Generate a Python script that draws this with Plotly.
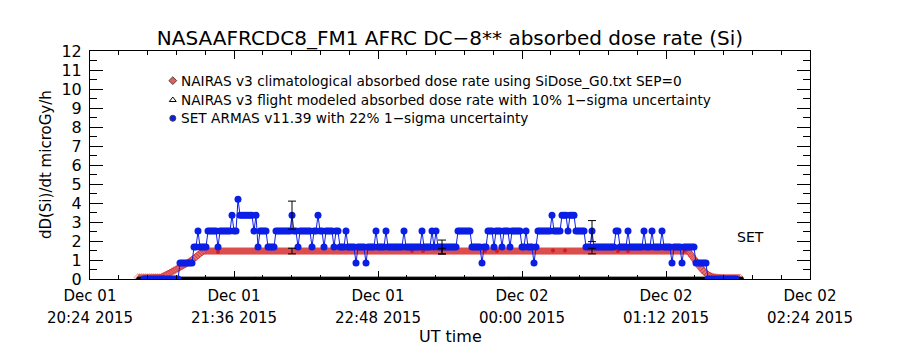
import numpy as np
import pandas as pd
import plotly.graph_objects as go

T0 = pd.Timestamp("2015-12-01 20:24")

# ---- axis tick labels (minutes after 20:24 UT) ----
tick_minutes = [0, 72, 144, 216, 288, 360]
tick_day = ["Dec 01", "Dec 01", "Dec 01", "Dec 02", "Dec 02", "Dec 02"]
tick_time = ["20:24 2015", "21:36 2015", "22:48 2015", "00:00 2015", "01:12 2015", "02:24 2015"]
y_ticks = list(range(0, 13))

# ---- SET ARMAS v11.39 (1-min cadence, run-length: (value, n samples)) ----
set_start_min = 27
set_runs = [(0, 18), (0.84, 7), (1.68, 2), (2.52, 1), (1.68, 4), (2.52, 5), (1.68, 1),
            (2.52, 6), (3.36, 1), (2.52, 2), (4.20, 1), (3.36, 7), (2.52, 1), (3.36, 1),
            (1.68, 1), (2.52, 4), (1.68, 4), (2.52, 8), (3.36, 1), (2.52, 2), (1.68, 1),
            (2.52, 6), (1.68, 1), (2.52, 2), (3.36, 1), (2.52, 2), (1.68, 1), (2.52, 4),
            (1.68, 1), (2.52, 2), (1.68, 3), (2.52, 1), (1.68, 4), (0.84, 1), (1.68, 4),
            (0.84, 1), (1.68, 4), (2.52, 1), (1.68, 4), (2.52, 1), (1.68, 8), (2.52, 1),
            (1.68, 8), (2.52, 1), (1.68, 4), (2.52, 1), (1.68, 1), (2.52, 1), (1.68, 10),
            (2.52, 7), (1.68, 5), (0.84, 1), (1.68, 2), (2.52, 3), (1.68, 1), (2.52, 3),
            (1.68, 1), (2.52, 3), (1.68, 1), (2.52, 5), (1.68, 2), (2.52, 1), (1.68, 3),
            (0.84, 1), (1.68, 1), (2.52, 7), (3.36, 1), (2.52, 4), (3.36, 3), (2.52, 1),
            (3.36, 3), (2.52, 5), (1.68, 3), (2.52, 1), (1.68, 11), (2.52, 2), (1.68, 4),
            (2.52, 1), (1.68, 7), (2.52, 1), (1.68, 3), (2.52, 1), (1.68, 4), (2.52, 1),
            (1.68, 4), (0.84, 1), (1.68, 4), (0.84, 1), (1.68, 6), (0.84, 6), (0, 15)]

# ---- NAIRAS v3 climatological (1-min cadence, run-length) ----
nairas_start_min = 24
nairas_runs = [(0.08, 12),
               (0.12, 1), (0.17, 1), (0.22, 1), (0.27, 1), (0.32, 1), (0.38, 1), (0.44, 1),
               (0.50, 1), (0.56, 1), (0.62, 1), (0.68, 1), (0.74, 1), (0.80, 1), (0.86, 1),
               (0.92, 1), (1.00, 1), (1.08, 1), (1.16, 1), (1.25, 1), (1.34, 1), (1.42, 1),
               (1.47, 243),
               (1.35, 1), (1.20, 1), (1.05, 1), (0.90, 1), (0.75, 1), (0.62, 1), (0.50, 1),
               (0.40, 1), (0.30, 1), (0.22, 1), (0.16, 1), (0.12, 1), (0.10, 1), (0.08, 1),
               (0.07, 1), (0.06, 11)]
nairas_dot_min = [36.5, 64, 129, 161, 166.5, 197.5, 203.5, 231.5, 237.5, 264, 269, 297.5]
nairas_dot_val = [0.10, 1.42, 1.60, 1.47, 1.47, 1.47, 1.47, 1.50, 1.50, 1.47, 1.47, 1.50]

# ---- NAIRAS v3 flight modeled ----
flight_track_min = (24, 326)
flight_track_val = 0.0
flight_err_min = [101, 176, 251]
flight_err_val = [1.47, 1.47, 1.47]
flight_err_pct = 10

# ---- SET uncertainty samples ----
set_err_min = [101, 176, 251]
set_err_val = [3.36, 1.68, 2.52]
set_err_pct = 22

legend_labels = ["NAIRAS v3 climatological absorbed dose rate using SiDose_G0.txt SEP=0",
                 "NAIRAS v3 flight modeled absorbed dose rate with 10% 1\u2212sigma uncertainty",
                 "SET ARMAS v11.39 with 22% 1\u2212sigma uncertainty"]


def expand(start, runs):
    vals = []
    for v, n in runs:
        vals.extend([v] * n)
    mins = [start + i for i in range(len(vals))]
    return mins, vals


def to_time(mins):
    return [T0 + pd.Timedelta(minutes=float(m)) for m in mins]


set_m, set_v = expand(set_start_min, set_runs)
nai_m, nai_v = expand(nairas_start_min, nairas_runs)
trk_m = list(range(flight_track_min[0], flight_track_min[1] + 1))

BLUE = "#0a1ee6"
RED = "#d41c1c"
FONT = "DejaVu Sans, Liberation Sans, sans-serif"
XRANGE = [T0, T0 + pd.Timedelta(minutes=360)]

fig = go.Figure()

# climatological (hatched red band)
fig.add_trace(go.Scatter(x=to_time(nai_m), y=nai_v, mode="lines",
                         line=dict(color="rgba(222,105,105,0.9)", width=6),
                         showlegend=False, hoverinfo="skip"))
fig.add_trace(go.Scatter(x=to_time(nai_m), y=nai_v, mode="markers",
                         marker=dict(symbol="diamond-open", size=6, color=RED, opacity=0.6,
                                     line=dict(width=0.8)),
                         showlegend=False, hoverinfo="skip"))
fig.add_trace(go.Scatter(x=to_time(nairas_dot_min), y=nairas_dot_val, mode="markers",
                         marker=dict(symbol="circle", size=4, color=RED),
                         showlegend=False, hoverinfo="skip"))
# flight modeled track (black triangles)
fig.add_trace(go.Scatter(x=to_time(trk_m), y=[flight_track_val] * len(trk_m), mode="markers",
                         marker=dict(symbol="triangle-up", size=6, color="black"),
                         showlegend=False, hoverinfo="skip"))
# SET ARMAS
fig.add_trace(go.Scatter(x=to_time(set_m), y=set_v, mode="lines+markers",
                         line=dict(color=BLUE, width=1),
                         marker=dict(symbol="circle", size=7, color=BLUE),
                         showlegend=False, hoverinfo="skip"))
# error bars (drawn on the second, label-only date axis so that it is rendered)
fig.add_trace(go.Scatter(x=to_time(set_err_min), y=set_err_val, mode="markers", xaxis="x3", yaxis="y",
                         marker=dict(size=1, color="rgba(0,0,0,0)"),
                         error_y=dict(type="percent", value=set_err_pct, color="black", thickness=1, width=4),
                         showlegend=False, hoverinfo="skip"))
fig.add_trace(go.Scatter(x=to_time(flight_err_min), y=flight_err_val, mode="markers", xaxis="x3", yaxis="y",
                         marker=dict(size=1, color="rgba(0,0,0,0)"),
                         error_y=dict(type="percent", value=flight_err_pct, color="black", thickness=1, width=4),
                         showlegend=False, hoverinfo="skip"))

# legend symbols on an overlay unit axis
leg_x = [0.115, 0.115, 0.115]
leg_y = [0.870, 0.785, 0.705]
leg_sym = ["diamond", "triangle-up-open", "circle"]
leg_col = ["#e06060", "black", BLUE]
for i in range(3):
    fig.add_trace(go.Scatter(x=[leg_x[i]], y=[leg_y[i]], xaxis="x2", yaxis="y2", mode="markers",
                             marker=dict(symbol=leg_sym[i], size=6, color=leg_col[i], line=dict(width=1)),
                             showlegend=False, hoverinfo="skip"))
    fig.add_annotation(x=0.1236, y=leg_y[i], xref="paper", yref="paper", text=legend_labels[i],
                       showarrow=False, xanchor="left", yanchor="middle",
                       font=dict(family=FONT, size=13.7, color="black"))

fig.add_annotation(x=0.918, y=0.184, xref="paper", yref="paper", text="SET", showarrow=False,
                   xanchor="center", yanchor="middle", font=dict(family=FONT, size=14, color="black"))
fig.add_annotation(x=-0.061, y=0.5, xref="paper", yref="paper", text="dD(Si)/dt microGy/h",
                   textangle=-90, showarrow=False, xanchor="center", yanchor="middle",
                   font=dict(family=FONT, size=15, color="black"))
fig.add_annotation(x=0.5, y=-57 / 228, xref="paper", yref="paper", text="UT time",
                   showarrow=False, xanchor="center", yanchor="middle",
                   font=dict(family=FONT, size=16, color="black"))

fig.update_layout(
    width=900, height=350,
    margin=dict(l=90, r=90, t=51, b=71),
    paper_bgcolor="white", plot_bgcolor="white",
    font=dict(family=FONT, size=15, color="black"),
    title=dict(text="NASAAFRCDC8_FM1 AFRC DC\u22128** absorbed dose rate (Si)", x=0.5, xanchor="center",
               y=1 - 38 / 350, yanchor="middle", font=dict(family=FONT, size=20, color="black")),
    showlegend=False,
    xaxis=dict(type="date", range=XRANGE, automargin=False,
               tickmode="array", tickvals=to_time(tick_minutes), ticktext=tick_day,
               ticks="inside", ticklen=8, tickcolor="black", tickwidth=1,
               showline=True, linecolor="black", linewidth=1, mirror="ticks",
               showgrid=False, zeroline=False, ticklabelstandoff=3,
               minor=dict(tickmode="linear", tick0=T0, dtick=14.4 * 60000, ticks="inside",
                          ticklen=4, tickcolor="black", showgrid=False),
               tickfont=dict(family=FONT, size=15)),
    xaxis3=dict(type="date", range=XRANGE, overlaying="x", anchor="y", side="bottom", automargin=False,
                tickmode="array", tickvals=to_time(tick_minutes), ticktext=tick_time,
                ticks="", showline=False, showgrid=False, zeroline=False,
                ticklabelstandoff=28, tickfont=dict(family=FONT, size=15)),
    yaxis=dict(range=[0, 12], tickmode="array", tickvals=y_ticks, automargin=False,
               ticks="inside", ticklen=13, tickcolor="black", tickwidth=1,
               showline=True, linecolor="black", linewidth=1, mirror="ticks",
               showgrid=False, zeroline=False,
               minor=dict(tickmode="linear", tick0=0, dtick=0.5, ticks="inside", ticklen=7,
                          tickcolor="black", showgrid=False),
               tickfont=dict(family=FONT, size=16), ticklabelstandoff=4),
    xaxis2=dict(overlaying="x", range=[0, 1], visible=False),
    yaxis2=dict(overlaying="y", range=[0, 1], visible=False),
)

fig.write_html("out.html")
